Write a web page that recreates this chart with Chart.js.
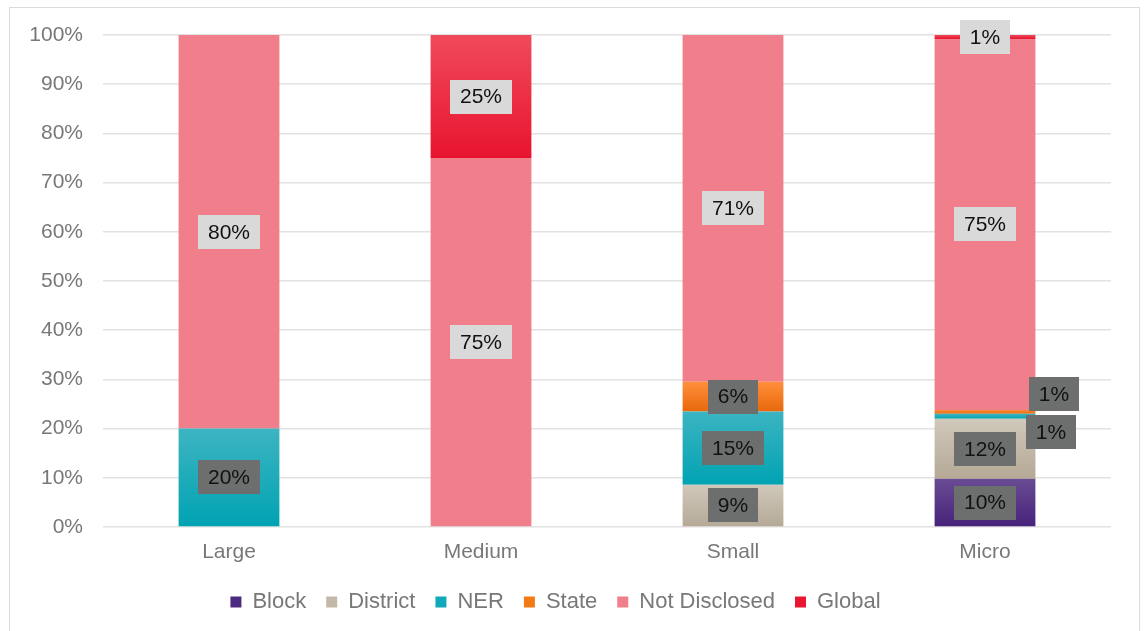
<!DOCTYPE html>
<html>
<head>
<meta charset="utf-8">
<script src="https://cdn.jsdelivr.net/npm/chart.js@4"></script>
<style>
  html, body { margin: 0; padding: 0; background: #fff; overflow: hidden; }
  #chart { position: absolute; left: 0; top: 0; }
  #frame { position: absolute; left: 9px; top: 7px; width: 1129px; height: 640px; border: 1px solid #dcdcdc; pointer-events: none; }
</style>
</head>
<body>
<canvas id="chart" width="1144" height="623"></canvas>
<div id="frame"></div>
<script>
// categories and series (percent of each size class)
const categories = ['Large', 'Medium', 'Small', 'Micro'];
const seriesNames = ['Block', 'District', 'NER', 'State', 'Not Disclosed', 'Global'];
const block        = [0, 0, 0, 9.8];
const district     = [0, 0, 8.6, 12.2];
const ner          = [20, 0, 14.9, 1.0];
const state        = [0, 0, 6.0, 0.8];
const notDisclosed = [80, 75, 70.5, 75.4];
const globalShare  = [0, 25, 0, 0.8];
const yTicks = [0, 10, 20, 30, 40, 50, 60, 70, 80, 90, 100];

const seriesValues = [block, district, ner, state, notDisclosed, globalShare];

// top / bottom gradient colours per series, plus legend swatch
const gradTop    = ['#6a4c93', '#d0c8bb', '#3db4c1', '#ff8f3c', '#f07e8b', '#f04a5b'];
const gradBottom = ['#46227a', '#b5a996', '#00a3b3', '#e8680a', '#f07e8b', '#e8142f'];
const swatch     = ['#4b2a7f', '#c4b9a8', '#10a9b9', '#f47a16', '#f07e8b', '#e8172f'];
const lightLabel = [false, false, false, false, true, true];

// labels pushed out of thin segments (dataset, category) -> dx, dy
const labelShift = { '2-3': [66, 16], '3-3': [69, -18] };

const FONT = "'Liberation Sans', Arial, sans-serif";
const GREY = '#787878';

function barFill(di) {
  return function(ctx) {
    const chart = ctx.chart;
    const y = chart.scales.y;
    const i = ctx.dataIndex;
    if (!y || i === undefined) return swatch[di];
    let start = 0;
    for (let k = 0; k < di; k++) start += seriesValues[k][i];
    const end = start + seriesValues[di][i];
    const yTop = y.getPixelForValue(end);
    const yBot = y.getPixelForValue(start);
    if (!isFinite(yTop) || !isFinite(yBot) || yTop === yBot) return swatch[di];
    const g = chart.ctx.createLinearGradient(0, yTop, 0, yBot);
    g.addColorStop(0, gradTop[di]);
    g.addColorStop(1, gradBottom[di]);
    return g;
  };
}

const valueLabels = {
  id: 'valueLabels',
  afterDatasetsDraw(chart) {
    const c = chart.ctx;
    c.save();
    c.font = '21px ' + FONT;
    c.textAlign = 'center';
    c.textBaseline = 'middle';
    chart.data.datasets.forEach((ds, di) => {
      const meta = chart.getDatasetMeta(di);
      meta.data.forEach((bar, i) => {
        const v = ds.data[i];
        if (!v) return;
        const txt = Math.round(v) + '%';
        const shift = labelShift[di + '-' + i] || [0, 0];
        const cx = bar.x + shift[0];
        const cy = (bar.y + bar.base) / 2 + shift[1];
        const w = c.measureText(txt).width + 20;
        const h = 34;
        c.fillStyle = lightLabel[di] ? '#d9d9d9' : '#6d6e6e';
        c.fillRect(Math.round(cx - w / 2), Math.round(cy - h / 2), Math.round(w), h);
        c.fillStyle = '#111';
        c.fillText(txt, cx, cy + 1);
      });
    });
    c.restore();
  }
};

const datasets = seriesNames.map((name, di) => ({
  label: name,
  data: seriesValues[di],
  backgroundColor: barFill(di),
  borderWidth: 0,
  barPercentage: 0.8,
  categoryPercentage: 0.5
}));

new Chart(document.getElementById('chart'), {
  type: 'bar',
  data: { labels: categories, datasets: datasets },
  options: {
    responsive: false,
    animation: false,
    layout: { padding: { top: 35, right: 33, left: 0, bottom: 0 } },
    plugins: {
      tooltip: { enabled: false },
      legend: {
        position: 'bottom',
        labels: {
          boxWidth: 11,
          boxHeight: 11,
          padding: 20,
          color: GREY,
          font: { size: 22, family: FONT },
          generateLabels(chart) {
            return chart.data.datasets.map((ds, di) => ({
              text: ds.label,
              fillStyle: swatch[di],
              strokeStyle: swatch[di],
              lineWidth: 0,
              fontColor: GREY,
              datasetIndex: di
            }));
          }
        }
      }
    },
    scales: {
      x: {
        stacked: true,
        grid: { display: false, drawTicks: false },
        border: { display: false },
        ticks: { color: GREY, padding: 13, font: { size: 21, family: FONT } },
        afterFit(axis) { axis.height = 44; }
      },
      y: {
        stacked: true,
        min: 0,
        max: 100,
        afterBuildTicks(axis) { axis.ticks = yTicks.map(v => ({ value: v })); },
        grid: { color: '#e2e2e2', lineWidth: 1.5, drawTicks: false },
        border: { display: false },
        ticks: {
          color: GREY,
          padding: 20,
          font: { size: 21, family: FONT },
          callback: v => v + '%'
        },
        afterFit(axis) { axis.width = 103; }
      }
    }
  },
  plugins: [valueLabels]
});
</script>
</body>
</html>
